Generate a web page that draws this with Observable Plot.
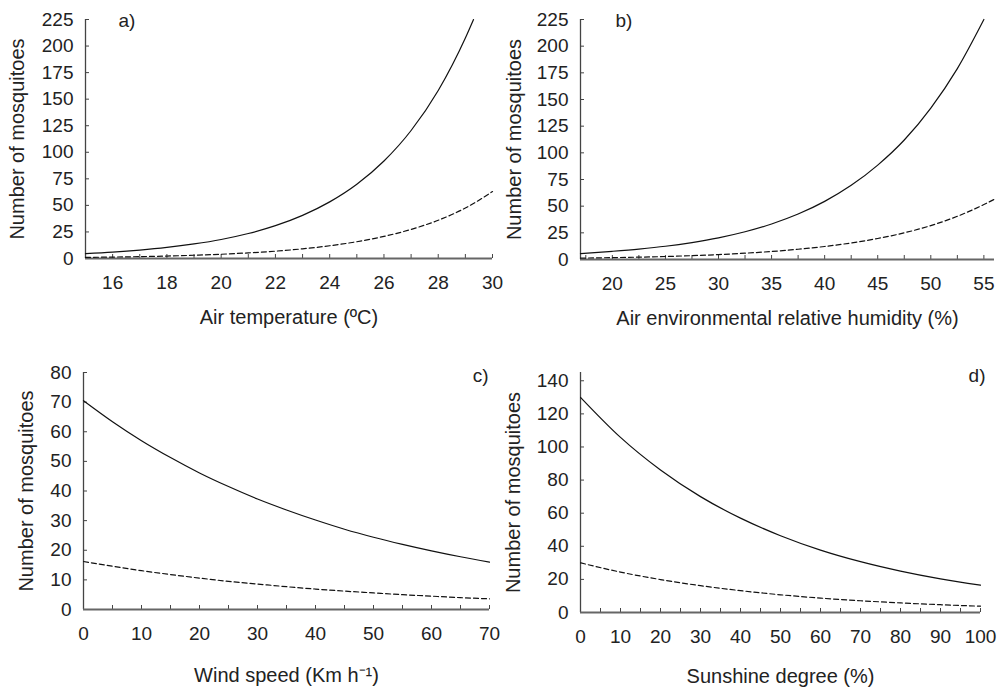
<!DOCTYPE html>
<html><head><meta charset="utf-8">
<script src="https://cdn.jsdelivr.net/npm/d3@7"></script>
<script src="https://cdn.jsdelivr.net/npm/@observablehq/plot@0.6"></script>
<style>
body{margin:0;background:#fff;}
#wrap{position:relative;width:1005px;height:688px;overflow:hidden;background:#fff;}
.panel{position:absolute;}
</style></head><body><div id="wrap"></div>
<script>
// ---------- data ----------
// a) Air temperature
const tempSolidX = [15,16,17,18,19,20,21,22,23,24,25,26,27,28,29,29.3];
const tempSolidY = [4.6,6.0,7.9,10.4,13.7,17.9,23.5,30.9,40.6,53.3,69.9,91.8,120.5,158.2,207.6,225];
const tempDashedX = [15,16,17,18,19,20,21,22,23,24,25,26,27,28,29,30];
const tempDashedY = [1.0,1.35,1.75,2.3,3.05,4.0,5.3,6.9,9.1,12.0,15.8,20.8,27.4,36.0,47.5,63];
const tempTickLabels = [16,18,20,22,24,26,28,30];
const tempTicks = [16,17,18,19,20,21,22,23,24,25,26,27,28,29,30];
const countTicks225 = [0,25,50,75,100,125,150,175,200,225];

// b) Relative humidity
const humSolidX = [17,20,22.5,25,27.5,30,32.5,35,37.5,40,42.5,45,47.5,50,52.5,55];
const humSolidY = [5.5,7.7,9.8,12.4,15.9,20.3,26.0,33.3,42.6,54.5,69.5,88.5,112,142,179,225];
const humDashedX = [17,20,22.5,25,27.5,30,32.5,35,37.5,40,42.5,45,47.5,50,52.5,55,56];
const humDashedY = [1.3,1.75,2.2,2.8,3.6,4.6,5.9,7.5,9.6,12.2,15.5,19.7,25.0,31.8,40.5,51.5,56.5];
const humTickLabels = [20,25,30,35,40,45,50,55];
const humTicks = [17.5,20,22.5,25,27.5,30,32.5,35,37.5,40,42.5,45,47.5,50,52.5,55];

// c) Wind speed
const windX = [0,5,10,15,20,25,30,35,40,45,50,55,60,65,70];
const windSolidY = [70.5,63.4,57.0,51.3,46.1,41.5,37.3,33.6,30.2,27.1,24.4,22.0,19.8,17.8,16.0];
const windDashedY = [16.2,14.6,13.1,11.8,10.6,9.5,8.6,7.7,6.9,6.2,5.6,5.0,4.5,4.0,3.6];
const windTickLabels = [0,10,20,30,40,50,60,70];
const windTicks = [5,10,15,20,25,30,35,40,45,50,55,60,65,70];
const countTicks80 = [0,10,20,30,40,50,60,70,80];

// d) Sunshine degree
const sunX = [0,10,20,30,40,50,60,70,80,90,100];
const sunSolidY = [130,105.8,86.1,70.0,57.0,46.4,37.7,30.7,25.0,20.3,16.5];
const sunDashedY = [30,24.4,19.9,16.2,13.2,10.7,8.7,7.1,5.8,4.7,3.8];
const sunTickLabels = [0,10,20,30,40,50,60,70,80,90,100];
const sunTicks = [5,10,15,20,25,30,35,40,45,50,55,60,65,70,75,80,85,90,95,100];
const countTicks140 = [0,20,40,60,80,100,120,140];

const yTitle = "Number of mosquitoes";

// ---------- drawing ----------
const FONT = "'Liberation Sans', Arial, Helvetica, sans-serif";
const pts = (xs, ys) => xs.map((x, i) => ({x, y: ys[i]}));

function panel(c) {
  const innerW = c.width - c.mL - c.mR;
  const innerH = c.height - c.mT - c.mB;
  return Plot.plot({
    width: c.width, height: c.height,
    marginLeft: c.mL, marginRight: c.mR, marginTop: c.mT, marginBottom: c.mB,
    style: {fontFamily: FONT, fontSize: "19px", color: "#222", background: "transparent", overflow: "visible"},
    x: {domain: c.xDomain, axis: null},
    y: {domain: c.yDomain, axis: null},
    marks: [
      Plot.ruleX(c.xTicks, {insetTop: innerH - 4, stroke: "#444", strokeWidth: 1}),
      Plot.ruleY(c.yTicks, {insetRight: innerW - 4, stroke: "#444", strokeWidth: 1}),
      Plot.ruleX([c.xDomain[0]], {stroke: "#444", strokeWidth: 1.3}),
      Plot.ruleY([c.yDomain[0]], {stroke: "#666", strokeWidth: 1.8}),
      Plot.axisX(c.xTickLabels, {tickSize: 0, tickPadding: 17, label: null, fontSize: 19}),
      Plot.axisY(c.yTicks, {tickSize: 0, tickPadding: 12, label: null, fontSize: 19}),
      Plot.line(pts(c.solidX, c.solidY), {x: "x", y: "y", curve: "monotone-x", stroke: "#111", strokeWidth: 1.2}),
      Plot.line(pts(c.dashedX, c.dashedY), {x: "x", y: "y", curve: "monotone-x", stroke: "#111", strokeWidth: 1.2, strokeDasharray: "5,3"}),
      Plot.text([yTitle], {frameAnchor: "left", rotate: -90, dx: c.yTitleDx, textAnchor: "middle", lineAnchor: "middle", fontSize: 20, fill: "#222"}),
      Plot.text([c.xTitle], {frameAnchor: "bottom", dy: c.xTitleDy, textAnchor: "middle", lineAnchor: "middle", fontSize: 20, fill: "#222"}),
      Plot.text([c.tag], {frameAnchor: c.tagAnchor, dx: c.tagDx, dy: c.tagDy, lineAnchor: "top", fontSize: 19, fill: "#222"})
    ]
  });
}

const panels = [
  {left: 0, top: 0, width: 500, height: 335, mL: 85, mR: 8, mT: 19, mB: 77,
   xDomain: [15, 30], yDomain: [0, 225], xTicks: tempTicks, xTickLabels: tempTickLabels, yTicks: countTicks225,
   solidX: tempSolidX, solidY: tempSolidY, dashedX: tempDashedX, dashedY: tempDashedY,
   xTitle: "Air temperature (ºC)", xTitleDy: 59, yTitleDx: -67.5,
   tag: "a)", tagAnchor: "top-left", tagDx: 33, tagDy: -6},
  {left: 500, top: 0, width: 505, height: 335, mL: 80, mR: 11, mT: 19, mB: 76,
   xDomain: [17, 56], yDomain: [0, 225], xTicks: humTicks, xTickLabels: humTickLabels, yTicks: countTicks225,
   solidX: humSolidX, solidY: humSolidY, dashedX: humDashedX, dashedY: humDashedY,
   xTitle: "Air environmental relative humidity (%)", xTitleDy: 59, yTitleDx: -66,
   tag: "b)", tagAnchor: "top-left", tagDx: 35, tagDy: -6},
  {left: 0, top: 335, width: 500, height: 353, mL: 83, mR: 11, mT: 37, mB: 79,
   xDomain: [0, 70], yDomain: [0, 80], xTicks: windTicks, xTickLabels: windTickLabels, yTicks: countTicks80,
   solidX: windX, solidY: windSolidY, dashedX: windX, dashedY: windDashedY,
   xTitle: "Wind speed (Km h\u207B\u00B9)", xTitleDy: 66, yTitleDx: -57,
   tag: "c)", tagAnchor: "top-right", tagDx: -1, tagDy: -4},
  {left: 500, top: 335, width: 505, height: 353, mL: 80, mR: 25, mT: 37, mB: 76,
   xDomain: [0, 100], yDomain: [0, 145], xTicks: sunTicks, xTickLabels: sunTickLabels, yTicks: countTicks140,
   solidX: sunX, solidY: sunSolidY, dashedX: sunX, dashedY: sunDashedY,
   xTitle: "Sunshine degree (%)", xTitleDy: 64, yTitleDx: -67,
   tag: "d)", tagAnchor: "top-right", tagDx: 5, tagDy: -4}
];

const wrap = document.getElementById("wrap");
for (const c of panels) {
  const div = document.createElement("div");
  div.className = "panel";
  div.style.left = c.left + "px";
  div.style.top = c.top + "px";
  div.appendChild(panel(c));
  wrap.appendChild(div);
}
</script>
</body></html>
